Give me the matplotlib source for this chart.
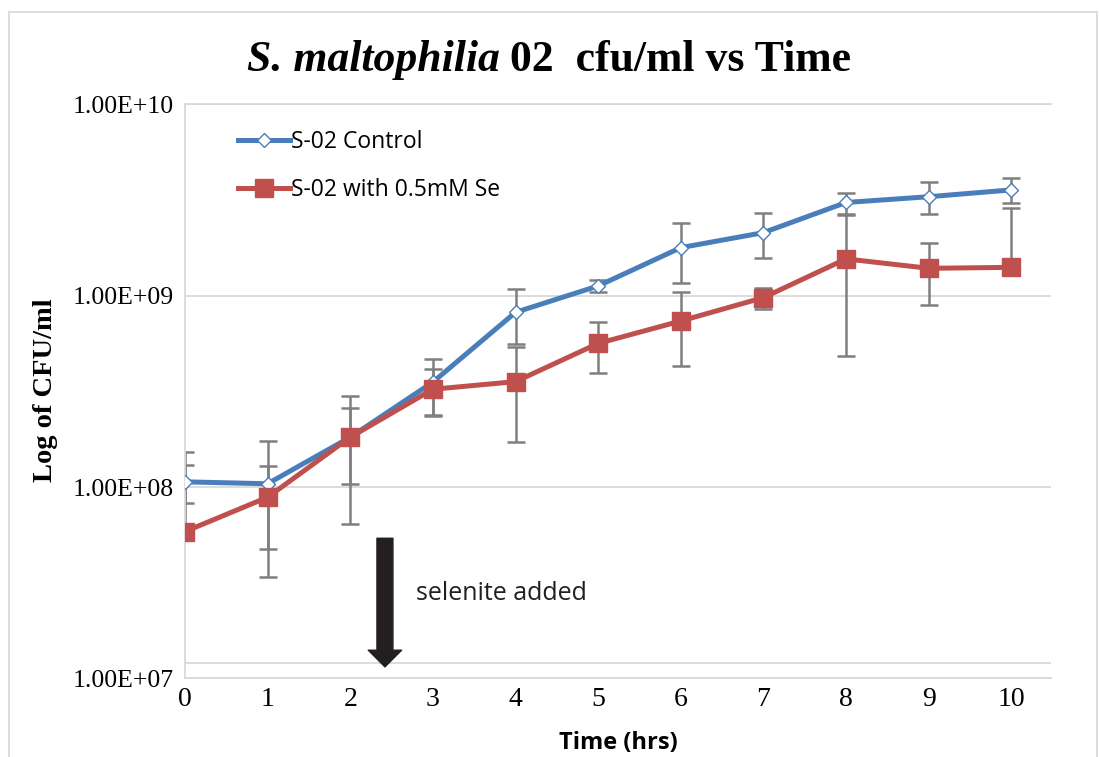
import numpy as np
import matplotlib
matplotlib.use("Agg")
import matplotlib.pyplot as plt
from matplotlib.patches import Rectangle

# data
hours = [0, 1, 2, 3, 4, 5, 6, 7, 8, 9, 10]
control = [1.064e8, 1.04e8, 1.82e8, 3.53e8, 8.17e8, 1.122e9, 1.778e9, 2.13e9, 3.06e9, 3.28e9, 3.56e9]
control_err = [2.4e7, 7.0e7, 7.8e7, 1.15e8, 2.6e8, 8.0e7, 6.1e8, 5.6e8, 3.8e8, 6.3e8, 5.3e8]
selenite = [5.85e7, 8.84e7, 1.82e8, 3.24e8, 3.55e8, 5.62e8, 7.36e8, 9.75e8, 1.553e9, 1.387e9, 1.403e9]
selenite_err = [9.4e7, 4.1e7, 1.18e8, 9.0e7, 1.83e8, 1.67e8, 3.05e8, 1.2e8, 1.07e9, 5.0e8, 1.46e9]
ytick_vals = [1e7, 1e8, 1e9, 1e10]
ytick_labels = ["1.00E+07", "1.00E+08", "1.00E+09", "1.00E+10"]

blue = "#4A7EBB"
red = "#C0504D"
grey_err = "#7F7F7F"
grid_col = "#D9D9D9"

serif = "Liberation Serif"
sans = "Open Sans"


def log_err(vals, errs):
    # like Excel: on a log axis, a lower bar that would go below zero is dropped
    vals = np.array(vals)
    errs = np.array(errs)
    lower = np.where(errs < vals, errs, 0.0)
    return [lower, errs]


fig = plt.figure(figsize=(10.99, 7.57), dpi=100)
ax = fig.add_axes([0.1683, 0.1037, 0.7880, 0.7589])

ax.errorbar(hours, control, yerr=log_err(control, control_err), fmt="none",
            ecolor=grey_err, elinewidth=1.8, capsize=6.5, capthick=1.8, zorder=2)
ax.errorbar(hours, selenite, yerr=log_err(selenite, selenite_err), fmt="none",
            ecolor=grey_err, elinewidth=1.8, capsize=6.5, capthick=1.8, zorder=2)

ax.plot(hours, control, color=blue, lw=3.6, marker="D", ms=7.5,
        mfc="white", mec=blue, mew=1.0, label="S-02 Control", zorder=3)
ax.plot(hours, selenite, color=red, lw=3.6, marker="s", ms=12.5,
        mfc=red, mec=red, label="S-02 with 0.5mM Se", zorder=4)

ax.set_yscale("log")
ax.set_ylim(1e7, 1e10)
ax.set_xlim(0, 10.48)
ax.set_yticks(ytick_vals)
ax.set_yticklabels(ytick_labels, fontfamily=serif, fontsize=18.5)
ax.yaxis.set_minor_locator(matplotlib.ticker.NullLocator())
ax.set_xticks(hours)
ax.set_xticklabels([str(h) for h in hours], fontfamily=serif, fontsize=20)
ax.tick_params(axis="both", length=0)
ax.tick_params(axis="y", pad=8)
ax.tick_params(axis="x", pad=6)

ax.grid(axis="y", color=grid_col, lw=1.3)
ax.axhline(1.2e7, color=grid_col, lw=1.3, zorder=1)
ax.axhline(1e10, color=grid_col, lw=1.3, zorder=1, clip_on=False)
for s in ["top", "right"]:
    ax.spines[s].set_visible(False)
for s in ["left", "bottom"]:
    ax.spines[s].set_color(grid_col)
    ax.spines[s].set_linewidth(1.3)

leg = ax.legend(loc="upper left", bbox_to_anchor=(0.037, 0.99), frameon=False,
                prop={"family": sans, "size": 16.5}, handlelength=2.3,
                handletextpad=0.05, labelspacing=1.05)

# selenite annotation
ax.annotate("", xy=(2.42, 1.15e7), xytext=(2.42, 5.4e7),
            arrowprops=dict(arrowstyle="simple,head_length=1.2,head_width=2.4,tail_width=1.15",
                            color="#231F20", mutation_scale=10, shrinkA=0, shrinkB=0))
ax.text(2.79, 2.79e7, "selenite added", fontfamily=sans, fontsize=18,
        va="center", ha="left", color="#231F20")

ax.set_xlabel("Time (hrs)", fontfamily=sans, fontsize=17, fontweight="bold", labelpad=14)
fig.text(0.041, 0.4848, "Log of CFU/ml", rotation=90, fontfamily=serif,
         fontsize=20.5, fontweight="bold", ha="center", va="center")

# title: italic species name + plain rest
t1 = fig.text(0, 0.921, "S. maltophilia", fontfamily=serif, fontsize=31.5,
              fontweight="bold", style="italic", va="center", ha="left")
t2 = fig.text(0, 0.921, " 02  cfu/ml vs Time", fontfamily=serif, fontsize=31.5,
              fontweight="bold", va="center", ha="left")
fig.canvas.draw()
r = fig.canvas.get_renderer()
w1 = t1.get_window_extent(r).width
w2 = t2.get_window_extent(r).width
fw = fig.bbox.width
x0 = (549 - (w1 + w2) / 2) / fw
t1.set_x(x0)
t2.set_x(x0 + w1 / fw)

# outer chart border
fig.patches.append(Rectangle((9 / 1099, -0.05), (1097 - 9) / 1099, 1.05 - 12 / 757,
                             transform=fig.transFigure, fill=False,
                             edgecolor=grid_col, lw=1.3))

fig.savefig("out.png", dpi=100)
